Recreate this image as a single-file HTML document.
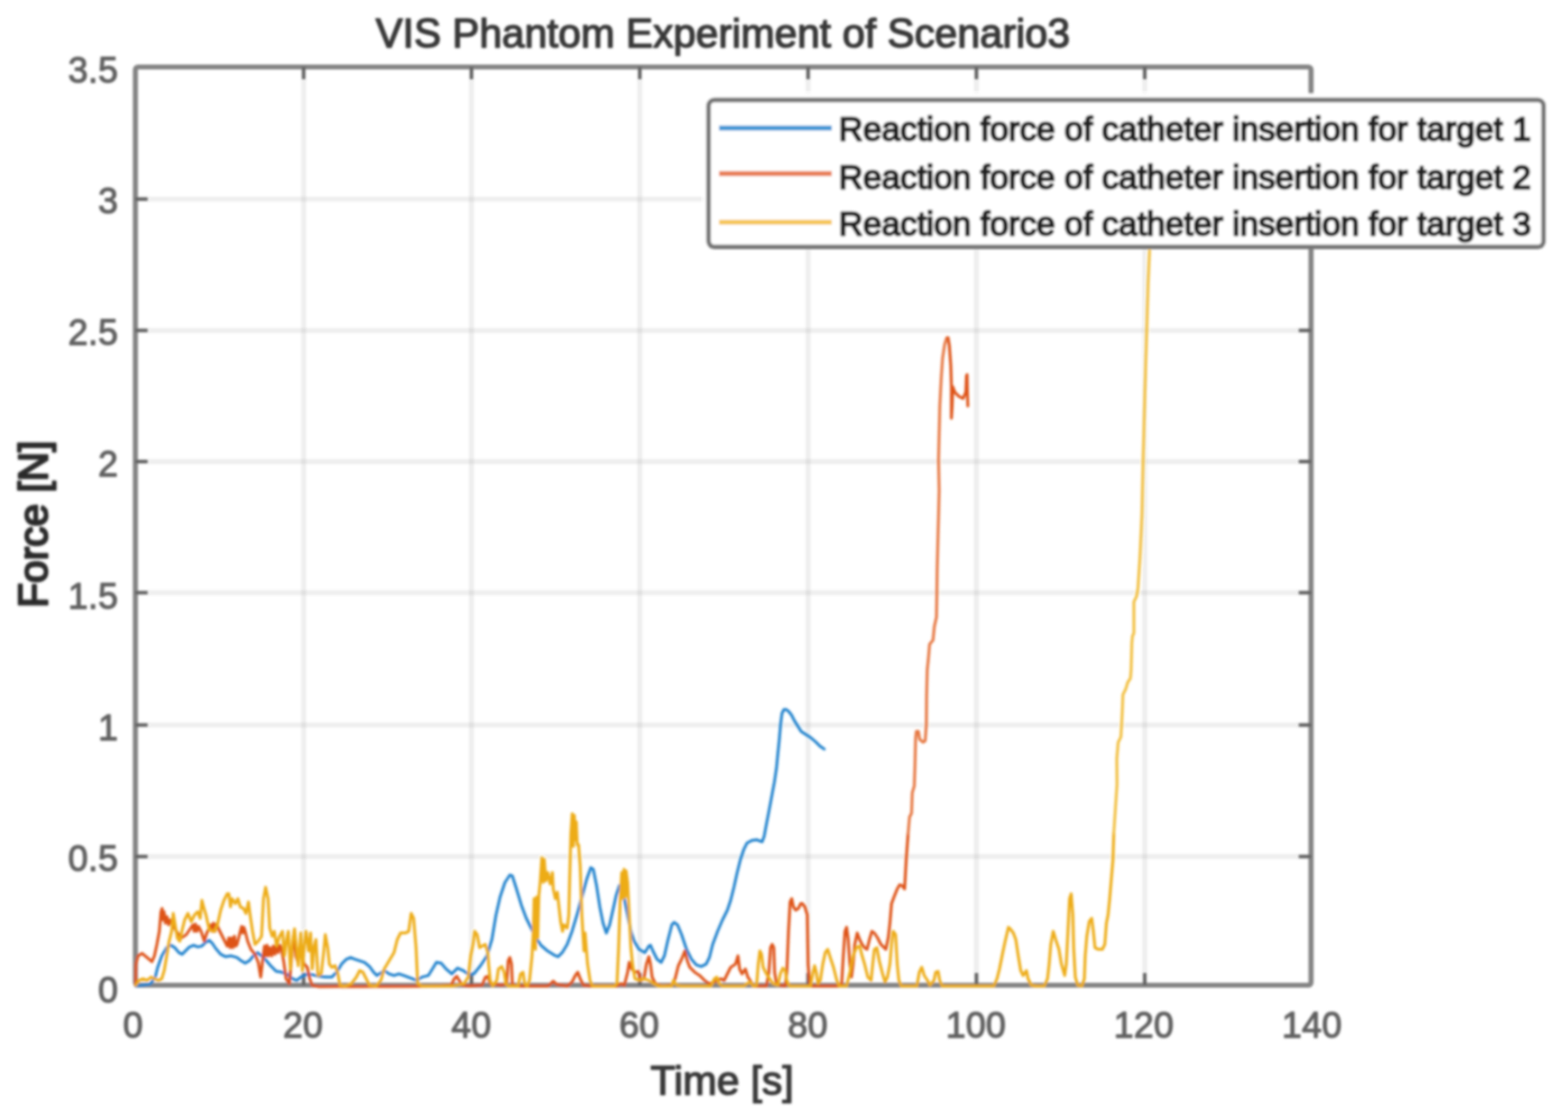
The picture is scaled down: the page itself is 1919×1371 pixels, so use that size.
<!DOCTYPE html>
<html lang="en"><head><meta charset="utf-8"><title>VIS Phantom Experiment of Scenario3</title>
<style>html,body{margin:0;padding:0;background:#fff;}body{width:1919px;height:1371px;overflow:hidden;}svg{display:block;}text{font-family:"Liberation Sans",Arial,Helvetica,sans-serif;}</style></head><body>
<svg width="1919" height="1371" viewBox="0 0 1919 1371" role="img" aria-label="VIS Phantom Experiment of Scenario3">
<defs><filter id="b" x="-2%" y="-2%" width="104%" height="104%"><feGaussianBlur stdDeviation="1.7"/></filter><clipPath id="c"><rect x="161.7" y="79.0" width="1446.8" height="1132.0"/></clipPath></defs>
<rect width="1919" height="1371" fill="#fff"/>
<g filter="url(#b)">
<g stroke="#000" stroke-opacity="0.068" stroke-width="6.0" fill="none">
<line x1="371.6" y1="82.0" x2="371.6" y2="1206.0"/>
<line x1="577.0" y1="82.0" x2="577.0" y2="1206.0"/>
<line x1="783.0" y1="82.0" x2="783.0" y2="1206.0"/>
<line x1="989.0" y1="82.0" x2="989.0" y2="1206.0"/>
<line x1="1195.0" y1="82.0" x2="1195.0" y2="1206.0"/>
<line x1="1401.0" y1="82.0" x2="1401.0" y2="1206.0"/>
<line x1="165.7" y1="243.7" x2="1604.5" y2="243.7"/>
<line x1="165.7" y1="404.5" x2="1604.5" y2="404.5"/>
<line x1="165.7" y1="565.0" x2="1604.5" y2="565.0"/>
<line x1="165.7" y1="725.5" x2="1604.5" y2="725.5"/>
<line x1="165.7" y1="887.5" x2="1604.5" y2="887.5"/>
<line x1="165.7" y1="1048.5" x2="1604.5" y2="1048.5"/>
</g>
<rect x="165.7" y="82.0" width="1438.8" height="1124.0" rx="3.5" fill="none" stroke="#838383" stroke-width="6.2"/>
<g stroke="#5e5e5e" stroke-width="4.2" fill="none">
<line x1="371.6" y1="1206.0" x2="371.6" y2="1191.0"/>
<line x1="371.6" y1="82.0" x2="371.6" y2="97.0"/>
<line x1="577.0" y1="1206.0" x2="577.0" y2="1191.0"/>
<line x1="577.0" y1="82.0" x2="577.0" y2="97.0"/>
<line x1="783.0" y1="1206.0" x2="783.0" y2="1191.0"/>
<line x1="783.0" y1="82.0" x2="783.0" y2="97.0"/>
<line x1="989.0" y1="1206.0" x2="989.0" y2="1191.0"/>
<line x1="989.0" y1="82.0" x2="989.0" y2="97.0"/>
<line x1="1195.0" y1="1206.0" x2="1195.0" y2="1191.0"/>
<line x1="1195.0" y1="82.0" x2="1195.0" y2="97.0"/>
<line x1="1401.0" y1="1206.0" x2="1401.0" y2="1191.0"/>
<line x1="1401.0" y1="82.0" x2="1401.0" y2="97.0"/>
<line x1="165.7" y1="243.7" x2="180.7" y2="243.7"/>
<line x1="1604.5" y1="243.7" x2="1589.5" y2="243.7"/>
<line x1="165.7" y1="404.5" x2="180.7" y2="404.5"/>
<line x1="1604.5" y1="404.5" x2="1589.5" y2="404.5"/>
<line x1="165.7" y1="565.0" x2="180.7" y2="565.0"/>
<line x1="1604.5" y1="565.0" x2="1589.5" y2="565.0"/>
<line x1="165.7" y1="725.5" x2="180.7" y2="725.5"/>
<line x1="1604.5" y1="725.5" x2="1589.5" y2="725.5"/>
<line x1="165.7" y1="887.5" x2="180.7" y2="887.5"/>
<line x1="1604.5" y1="887.5" x2="1589.5" y2="887.5"/>
<line x1="165.7" y1="1048.5" x2="180.7" y2="1048.5"/>
<line x1="1604.5" y1="1048.5" x2="1589.5" y2="1048.5"/>
</g>
<g fill="none" stroke-width="3.5" stroke-linejoin="round" stroke-linecap="round" clip-path="url(#c)">
<polyline stroke="#2283cd" points="166.0,1207.1 174.0,1206.1 184.0,1204.5 190.0,1196.1 193.0,1184.1 198.0,1170.1 204.0,1160.1 209.0,1157.1 214.0,1160.1 219.0,1166.1 223.0,1168.1 227.0,1164.1 232.0,1159.1 237.0,1157.1 242.0,1159.1 247.1,1158.1 252.1,1153.1 256.1,1151.1 260.1,1155.1 264.1,1161.1 270.1,1168.1 276.1,1171.1 283.1,1170.1 290.1,1172.1 295.1,1176.1 300.1,1179.1 305.1,1176.1 310.1,1170.1 315.1,1166.1 320.1,1170.1 326.1,1176.1 332.1,1183.1 338.1,1189.1 345.1,1190.1 352.1,1193.1 358.1,1198.1 363.1,1200.1 368.1,1196.1 374.1,1193.1 382.1,1193.1 390.1,1195.1 398.1,1196.1 406.1,1196.1 412.1,1190.1 418.1,1180.1 424.1,1174.1 429.1,1172.1 434.1,1174.1 440.2,1176.1 446.2,1178.1 452.2,1183.1 457.2,1190.1 461.2,1194.1 466.2,1191.1 470.2,1188.1 476.2,1192.1 482.2,1194.1 488.2,1192.1 494.2,1194.1 502.2,1197.1 510.2,1200.1 516.2,1196.1 524.2,1194.1 529.2,1186.1 534.0,1178.1 540.0,1179.1 546.0,1186.1 553.0,1192.1 560.0,1185.1 567.0,1188.1 574.0,1193.1 580.0,1192.1 588.0,1182.1 596.0,1170.1 602.0,1150.1 607.0,1120.1 612.0,1098.1 618.0,1080.1 624.0,1071.1 627.0,1072.1 632.1,1088.1 638.1,1108.1 644.1,1124.1 650.1,1136.1 656.1,1148.1 662.1,1157.1 670.1,1164.1 678.1,1169.1 683.1,1171.1 688.1,1166.1 694.1,1156.1 700.1,1140.1 706.1,1120.1 712.1,1098.1 718.1,1076.1 723.1,1062.1 726.1,1064.1 730.1,1084.1 734.1,1110.1 738.1,1130.1 742.1,1142.1 746.1,1132.1 750.1,1114.1 754.1,1096.1 758.1,1084.1 761.1,1086.1 764.1,1100.1 768.1,1120.1 772.1,1140.1 776.1,1152.1 782.1,1162.1 789.1,1166.1 794.1,1158.1 796.1,1157.1 799.1,1164.1 804.1,1174.1 809.1,1178.1 813.1,1170.1 817.1,1152.1 822.2,1132.1 825.2,1129.1 829.2,1132.1 834.2,1144.1 840.2,1162.1 846.2,1174.1 852.2,1181.1 858.2,1183.1 864.2,1180.1 868.2,1172.1 872.2,1156.1 878.2,1140.1 884.2,1126.1 890.2,1114.1 894.2,1102.1 898.2,1086.1 902.2,1068.1 906.2,1052.1 910.2,1040.1 914.2,1032.0 920.2,1028.8 926.1,1027.9 930.2,1029.6 932.7,1030.4 935.2,1023.8 937.7,1010.4 940.3,997.0 942.8,983.7 945.3,970.3 947.8,957.0 950.3,940.3 951.9,923.5 953.6,906.8 955.3,886.8 957.0,873.4 959.5,868.4 962.0,868.4 965.3,870.9 968.6,875.1 972.0,881.8 976.2,888.5 980.3,895.2 985.3,898.5 992.0,902.7 998.7,908.5 1003.7,913.5 1008.7,916.9"/>
<polyline stroke="#de5216" points="166.0,1206.1 166.4,1180.1 169.0,1170.1 174.0,1167.1 180.0,1172.1 186.0,1177.1 189.0,1170.1 192.0,1156.1 195.0,1140.1 197.0,1116.1 198.4,1112.1 199.6,1126.1 200.8,1116.1 202.4,1130.1 204.4,1122.1 206.4,1132.1 208.4,1126.1 211.0,1132.1 216.0,1140.1 222.0,1148.1 228.0,1144.1 232.0,1138.1 236.0,1132.1 237.6,1140.1 239.2,1131.1 241.0,1140.1 243.0,1134.1 246.1,1140.1 250.1,1152.1 253.1,1142.1 258.1,1132.1 259.7,1140.1 261.3,1130.1 263.1,1140.1 265.1,1131.1 268.1,1138.1 274.1,1150.1 278.1,1158.1 280.1,1148.1 281.7,1160.1 283.3,1148.1 285.1,1160.1 286.9,1146.1 288.5,1158.1 290.1,1156.1 294.1,1140.1 295.7,1134.1 297.1,1142.1 298.5,1135.1 300.1,1140.1 303.1,1152.1 307.1,1162.1 312.1,1168.1 316.1,1178.1 319.1,1196.1 322.1,1170.1 323.7,1158.1 325.3,1170.1 326.9,1157.1 328.5,1170.1 330.5,1160.1 332.5,1170.1 334.5,1158.1 336.5,1168.1 338.5,1156.1 340.5,1166.1 342.5,1157.1 344.1,1160.1 347.1,1176.1 350.1,1198.1 354.1,1204.1 357.1,1170.1 360.1,1140.1 362.1,1170.1 364.1,1176.1 368.1,1166.1 372.1,1180.1 376.1,1184.1 379.1,1198.1 382.1,1206.1 390.1,1207.7 530.2,1207.3 534.0,1207.1 552.0,1206.1 556.0,1198.1 559.0,1195.1 562.0,1200.1 566.0,1206.1 574.0,1207.1 590.0,1206.1 594.0,1196.1 597.0,1195.1 600.0,1204.1 614.0,1206.1 620.0,1204.1 622.0,1176.1 624.0,1172.1 626.0,1180.1 627.0,1204.1 630.1,1207.1 670.1,1207.1 674.1,1204.1 677.1,1201.1 681.1,1205.1 694.1,1207.1 700.1,1202.1 704.1,1194.1 707.1,1190.1 710.1,1198.1 714.1,1206.1 724.1,1207.1 754.1,1207.1 760.1,1204.1 764.1,1206.1 768.1,1190.1 770.1,1178.1 773.1,1186.1 777.1,1190.1 781.1,1189.1 784.1,1200.1 788.1,1198.1 791.1,1180.1 794.1,1171.1 796.1,1180.1 798.1,1196.1 802.1,1204.1 810.1,1207.1 822.2,1206.1 826.2,1198.1 830.2,1182.1 834.2,1174.1 838.2,1164.1 841.2,1176.1 844.2,1184.1 850.2,1190.1 856.2,1194.1 862.2,1200.1 868.2,1204.1 874.2,1202.1 882.2,1198.1 886.2,1200.1 890.2,1192.1 894.2,1184.1 900.2,1180.1 903.2,1170.1 905.2,1186.1 908.2,1192.1 912.2,1186.1 915.2,1196.1 918.0,1200.1 922.0,1207.1 938.0,1207.1 941.0,1190.1 943.0,1160.1 945.0,1156.1 947.0,1160.1 948.0,1190.1 950.0,1202.1 954.0,1206.1 961.0,1207.1 963.0,1190.1 965.0,1140.1 967.0,1104.1 969.0,1100.1 971.0,1110.1 974.0,1114.1 977.0,1112.1 980.0,1106.1 982.0,1106.1 985.0,1110.1 988.0,1120.1 989.0,1180.1 991.0,1204.1 994.0,1207.1 1026.1,1207.1 1030.1,1204.1 1032.1,1170.1 1034.1,1140.1 1036.1,1135.1 1038.1,1150.1 1040.1,1180.1 1042.1,1196.1 1044.1,1180.1 1046.1,1156.1 1049.1,1142.1 1052.1,1150.1 1055.1,1156.1 1058.1,1160.1 1061.1,1162.1 1064.1,1150.1 1067.1,1140.1 1070.1,1142.1 1074.1,1148.1 1078.1,1156.1 1082.1,1160.1 1084.1,1162.1 1087.1,1148.1 1089.1,1130.1 1091.1,1106.1 1094.1,1098.1 1098.1,1088.1 1101.1,1083.1 1104.1,1084.1 1107.1,1088.1 1108.1,1070.1 1109.1,1052.1 1111.4,1020.4"/>
<polyline stroke="#e67842" points="1111.4,1020.4 1113.1,1000.4 1115.6,995.4 1116.5,970.3 1119.0,962.0 1119.8,936.9 1120.6,903.5 1121.5,895.2 1124.0,895.2 1125.6,905.2 1129.8,908.5 1132.3,906.8 1133.7,886.8 1134.0,853.4 1134.8,820.0 1136.0,808.8 1137.7,788.7 1141.9,783.7 1143.5,767.0 1146.1,755.3 1146.6,725.3 1146.9,700.2 1147.7,666.8 1148.6,633.4 1149.4,600.0 1148.6,563.7 1149.4,530.3 1150.2,496.9 1151.9,463.5 1153.6,438.5 1156.1,421.8 1158.6,413.4 1160.3,413.4"/>
<polyline stroke="#de5216" points="1160.3,413.4 1161.9,423.4 1163.6,446.8 1164.4,471.9 1164.4,496.9 1164.4,511.9 1165.3,496.9 1166.1,473.5 1168.6,480.2 1173.6,485.2 1178.6,487.7 1182.0,480.2 1182.8,460.2 1183.6,458.5 1184.0,480.2 1184.5,496.9"/>
<polyline stroke="#edac16" points="166.0,1206.1 170.0,1200.1 175.0,1198.1 180.0,1200.1 185.0,1196.1 189.0,1198.1 194.0,1200.1 198.0,1198.1 201.0,1188.1 204.0,1170.1 207.0,1152.1 210.0,1140.1 212.0,1118.1 214.4,1132.1 217.0,1148.1 220.0,1152.1 223.0,1138.1 226.0,1126.1 230.0,1118.1 234.0,1128.1 238.0,1120.1 242.0,1116.1 245.0,1124.1 247.1,1102.1 249.1,1110.1 252.1,1120.1 256.1,1138.1 262.1,1140.1 266.1,1132.1 270.1,1114.1 274.1,1102.1 278.1,1094.1 280.1,1094.1 282.1,1110.1 284.1,1100.1 288.1,1106.1 291.1,1100.1 294.1,1110.1 298.1,1112.1 301.1,1118.1 304.1,1104.1 306.1,1120.1 309.1,1140.1 312.1,1156.1 316.1,1152.1 320.1,1146.1 322.5,1100.1 325.1,1086.1 328.1,1100.1 330.1,1136.1 333.1,1146.1 335.7,1140.1 338.5,1158.1 342.1,1146.1 345.7,1140.1 348.1,1170.1 351.1,1148.1 352.9,1140.1 355.3,1186.1 358.1,1152.1 360.5,1137.1 362.9,1160.1 364.9,1182.1 368.1,1142.1 370.1,1188.1 372.5,1156.1 374.5,1140.1 377.7,1164.1 380.1,1142.1 382.1,1186.1 384.5,1158.1 386.7,1150.1 389.1,1194.1 393.1,1192.1 396.1,1166.1 398.1,1144.1 401.1,1160.1 403.1,1180.1 406.1,1184.1 410.1,1182.1 413.1,1190.1 416.1,1206.1 422.1,1207.1 430.1,1204.1 436.1,1196.1 440.2,1188.1 444.2,1190.1 448.2,1198.1 452.2,1206.1 460.2,1207.1 466.2,1200.1 470.2,1186.1 476.2,1176.1 482.2,1166.1 486.2,1150.1 490.2,1142.1 496.2,1142.1 500.2,1140.1 503.2,1118.1 506.2,1124.1 509.2,1160.1 511.2,1204.1 516.2,1207.1 530.2,1207.1 534.0,1207.1 554.0,1207.1 568.0,1204.1 573.0,1196.1 576.0,1170.1 579.0,1156.1 581.0,1140.1 584.0,1144.1 587.0,1160.1 590.0,1158.1 594.0,1156.1 597.0,1166.1 598.0,1180.1 600.0,1200.1 603.0,1207.1 608.0,1200.1 610.0,1186.1 614.0,1183.1 617.0,1190.1 619.0,1204.1 622.0,1207.1 634.1,1207.1 637.1,1192.1 640.1,1190.1 642.1,1204.1 645.1,1207.1 648.1,1200.1 651.1,1170.1 652.7,1140.1 653.7,1100.1 655.3,1162.1 656.7,1098.1 658.1,1148.1 659.5,1096.1 661.1,1080.1 663.1,1050.1 664.9,1080.1 666.1,1052.1 668.1,1078.1 670.5,1068.1 673.3,1082.1 676.1,1068.1 677.1,1088.1 679.7,1100.1 682.1,1092.1 684.1,1110.1 686.1,1128.1 688.5,1140.1 690.1,1132.1 694.1,1136.1 696.1,1120.1 697.1,1080.1 698.7,1020.0 700.3,996.0 701.7,1036.1 702.9,998.0 704.1,1028.0 705.3,1006.0 706.5,1034.0 708.1,1034.0 710.1,1060.1 712.1,1120.1 713.3,1140.1 714.7,1164.1 716.1,1142.1 717.5,1160.1 719.1,1180.1 722.1,1200.1 725.1,1207.1 752.1,1207.1 755.1,1204.1 757.1,1160.1 759.1,1100.1 760.9,1068.1 762.3,1100.1 763.7,1064.1 765.1,1098.1 766.3,1066.1 768.1,1080.1 770.1,1120.1 772.1,1160.1 774.1,1180.1 777.1,1198.1 782.1,1200.1 788.1,1198.1 794.1,1200.1 800.1,1204.1 806.1,1207.1 822.2,1207.1 824.2,1200.1 828.2,1206.1 834.2,1207.1 870.2,1207.1 874.2,1198.1 877.2,1196.1 880.2,1204.1 884.2,1207.1 910.2,1207.1 914.2,1204.1 918.0,1202.1 922.0,1207.1 926.0,1206.1 928.0,1180.1 930.0,1164.1 932.0,1168.1 934.0,1184.1 938.0,1192.1 942.0,1198.1 946.0,1204.1 952.0,1206.1 955.0,1192.1 958.0,1185.1 961.0,1188.1 963.0,1200.1 966.0,1207.1 992.0,1207.1 995.0,1190.1 997.0,1182.1 999.0,1190.1 1001.0,1204.1 1004.0,1200.1 1007.0,1180.1 1010.0,1166.1 1013.0,1162.1 1016.1,1172.1 1020.1,1184.1 1024.1,1200.1 1027.1,1207.1 1036.1,1207.1 1040.1,1190.1 1044.1,1170.1 1048.1,1160.1 1052.1,1158.1 1055.1,1170.1 1058.1,1180.1 1062.1,1196.1 1066.1,1200.1 1068.1,1180.1 1070.1,1162.1 1073.1,1160.1 1076.1,1176.1 1080.1,1192.1 1083.1,1202.1 1086.1,1196.1 1089.1,1180.1 1091.1,1156.1 1093.1,1140.1 1096.1,1144.1 1098.1,1180.1 1100.1,1200.1 1103.1,1207.1 1122.1,1207.1 1125.1,1190.1 1128.1,1184.1 1131.1,1194.1 1135.1,1200.1 1138.1,1206.1 1143.1,1200.1 1145.1,1190.1 1148.1,1189.1 1150.1,1200.1 1153.1,1207.1 1216.2,1207.1 1220.2,1198.1 1223.2,1186.1 1227.2,1166.1 1230.2,1152.1 1234.2,1135.1 1237.2,1138.1 1240.2,1142.1 1243.2,1150.1 1246.2,1170.1 1249.2,1188.1 1252.2,1194.1 1256.2,1188.1 1258.2,1198.1 1262.2,1206.1 1268.2,1207.1 1266.0,1207.1 1278.0,1207.1 1282.0,1198.1 1284.0,1180.1 1286.0,1156.1 1289.0,1140.1 1292.0,1150.1 1296.0,1162.1 1299.0,1180.1 1303.0,1194.1 1305.0,1180.1 1307.0,1140.1 1309.0,1100.1 1311.0,1094.1 1313.0,1120.1 1314.0,1160.1 1316.0,1196.1 1319.0,1206.1 1324.0,1207.1 1327.1,1198.1 1328.1,1170.1 1330.1,1146.1 1333.1,1128.1 1336.1,1124.1 1338.1,1140.1 1340.1,1160.1 1344.1,1162.1 1349.1,1162.1 1352.1,1156.1 1354.1,1130.1 1356.1,1120.1 1358.1,1100.1 1360.1,1076.1 1362.1,1052.1 1363.1,1020.0"/>
<polyline stroke="#f2bf40" points="1363.1,1020.0 1365.1,990.0 1367.1,960.0 1366.8,928.8 1368.5,908.7 1371.8,902.0 1372.7,887.0 1373.5,870.3 1374.3,850.3 1377.7,843.6 1380.2,835.2 1383.5,830.2 1384.3,820.2 1385.2,786.8 1386.0,778.5 1387.7,775.1 1387.7,736.7 1391.0,730.0 1392.7,720.0 1395.2,680.8 1397.5,630.7 1398.9,564.9 1401.2,480.4 1403.5,404.6 1405.2,346.8 1406.9,306.7"/>
</g>
<rect x="861.2" y="114.4" width="1034.0" height="187.79999999999998" fill="#fff"/>
<rect x="867.2" y="122.4" width="1022.0" height="179.79999999999998" rx="7" fill="#fff" stroke="#747474" stroke-width="5.6"/>
<line x1="880" y1="156.7" x2="1018" y2="156.7" stroke="#3f96d6" stroke-width="6.0"/>
<text transform="translate(1026.5,172.3) scale(0.995,1)" font-size="41.3" fill="#202020" stroke="#202020" stroke-width="2.4" stroke-linejoin="round" text-anchor="start">Reaction force of catheter insertion for target 1</text>
<line x1="880" y1="212.6" x2="1018" y2="212.6" stroke="#e87d52" stroke-width="6.0"/>
<text transform="translate(1026.5,231.0) scale(0.995,1)" font-size="41.3" fill="#202020" stroke="#202020" stroke-width="2.4" stroke-linejoin="round" text-anchor="start">Reaction force of catheter insertion for target 2</text>
<line x1="880" y1="272.0" x2="1018" y2="272.0" stroke="#f5c655" stroke-width="6.0"/>
<text transform="translate(1026.5,288.3) scale(0.995,1)" font-size="41.3" fill="#202020" stroke="#202020" stroke-width="2.4" stroke-linejoin="round" text-anchor="start">Reaction force of catheter insertion for target 3</text>
<text transform="translate(162.8,1270.2) scale(1.0,1)" font-size="44.0" fill="#606060" stroke="#606060" stroke-width="1.3" stroke-linejoin="round" text-anchor="middle">0</text>
<text transform="translate(370.8,1270.2) scale(1.0,1)" font-size="44.0" fill="#606060" stroke="#606060" stroke-width="1.3" stroke-linejoin="round" text-anchor="middle">20</text>
<text transform="translate(576.7,1270.2) scale(1.0,1)" font-size="44.0" fill="#606060" stroke="#606060" stroke-width="1.3" stroke-linejoin="round" text-anchor="middle">40</text>
<text transform="translate(782.3,1270.2) scale(1.0,1)" font-size="44.0" fill="#606060" stroke="#606060" stroke-width="1.3" stroke-linejoin="round" text-anchor="middle">60</text>
<text transform="translate(988.5,1270.2) scale(1.0,1)" font-size="44.0" fill="#606060" stroke="#606060" stroke-width="1.3" stroke-linejoin="round" text-anchor="middle">80</text>
<text transform="translate(1194.2,1270.2) scale(1.0,1)" font-size="44.0" fill="#606060" stroke="#606060" stroke-width="1.3" stroke-linejoin="round" text-anchor="middle">100</text>
<text transform="translate(1399.8,1270.2) scale(1.0,1)" font-size="44.0" fill="#606060" stroke="#606060" stroke-width="1.3" stroke-linejoin="round" text-anchor="middle">120</text>
<text transform="translate(1605.5,1270.2) scale(1.0,1)" font-size="44.0" fill="#606060" stroke="#606060" stroke-width="1.3" stroke-linejoin="round" text-anchor="middle">140</text>
<text transform="translate(144.5,100.5) scale(1.0,1)" font-size="44.0" fill="#606060" stroke="#606060" stroke-width="1.3" stroke-linejoin="round" text-anchor="end">3.5</text>
<text transform="translate(144.5,261.2) scale(1.0,1)" font-size="44.0" fill="#606060" stroke="#606060" stroke-width="1.3" stroke-linejoin="round" text-anchor="end">3</text>
<text transform="translate(144.5,421.9) scale(1.0,1)" font-size="44.0" fill="#606060" stroke="#606060" stroke-width="1.3" stroke-linejoin="round" text-anchor="end">2.5</text>
<text transform="translate(144.5,583.0) scale(1.0,1)" font-size="44.0" fill="#606060" stroke="#606060" stroke-width="1.3" stroke-linejoin="round" text-anchor="end">2</text>
<text transform="translate(144.5,744.5) scale(1.0,1)" font-size="44.0" fill="#606060" stroke="#606060" stroke-width="1.3" stroke-linejoin="round" text-anchor="end">1.5</text>
<text transform="translate(144.5,905.5) scale(1.0,1)" font-size="44.0" fill="#606060" stroke="#606060" stroke-width="1.3" stroke-linejoin="round" text-anchor="end">1</text>
<text transform="translate(144.5,1066.0) scale(1.0,1)" font-size="44.0" fill="#606060" stroke="#606060" stroke-width="1.3" stroke-linejoin="round" text-anchor="end">0.5</text>
<text transform="translate(144.5,1226.5) scale(1.0,1)" font-size="44.0" fill="#606060" stroke="#606060" stroke-width="1.3" stroke-linejoin="round" text-anchor="end">0</text>
<text transform="translate(884.7,57.5) scale(0.997,1)" font-size="49.8" fill="#383838" stroke="#383838" stroke-width="1.7" stroke-linejoin="round" text-anchor="middle">VIS Phantom Experiment of Scenario3</text>
<text transform="translate(883.7,1339.5) scale(1.0,1)" font-size="49.8" fill="#383838" stroke="#383838" stroke-width="1.7" stroke-linejoin="round" text-anchor="middle">Time [s]</text>
<text transform="translate(58,641.7) rotate(-90) scale(1.0,1)" font-size="49.8" fill="#2c2c2c" stroke="#2c2c2c" stroke-width="2.6" stroke-linejoin="round" text-anchor="middle">Force [N]</text>
</g>
</svg></body></html>
